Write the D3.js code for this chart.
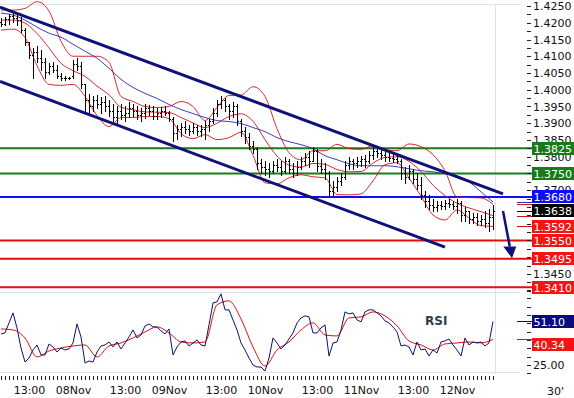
<!DOCTYPE html>
<html>
<head>
<meta charset="utf-8">
<script src="https://cdn.jsdelivr.net/npm/d3@7"></script>
<style>
  body { margin: 0; background: #fff; }
  svg { display: block; }
  text { font-family: "DejaVu Sans", sans-serif; }
</style>
</head>
<body>
<div id="viz"></div>
<script>
// 30' bars, EUR/USD-like price (hourly sampling of the picture)
const opens = [
  1.4202, 1.4196, 1.4211, 1.4220, 1.4214, 1.4208, 1.4178, 1.4142, 1.4103, 1.4112,
  1.4094, 1.4082, 1.4052, 1.4070, 1.4058, 1.4040, 1.4034, 1.4034, 1.4040, 1.4076,
  1.4070, 1.4016, 1.3968, 1.3950, 1.3968, 1.3956, 1.3962, 1.3950, 1.3938, 1.3920,
  1.3938, 1.3926, 1.3932, 1.3944, 1.3938, 1.3926, 1.3932, 1.3944, 1.3938, 1.3923,
  1.3932, 1.3938, 1.3932, 1.3914, 1.3872, 1.3884, 1.3890, 1.3884, 1.3878, 1.3890,
  1.3878, 1.3884, 1.3896, 1.3908, 1.3932, 1.3956, 1.3968, 1.3950, 1.3938, 1.3950,
  1.3908, 1.3878, 1.3860, 1.3833, 1.3824, 1.3782, 1.3770, 1.3764, 1.3758, 1.3776,
  1.3770, 1.3758, 1.3788, 1.3764, 1.3752, 1.3770, 1.3788, 1.3800, 1.3788, 1.3818,
  1.3773, 1.3764, 1.3752, 1.3698, 1.3710, 1.3728, 1.3740, 1.3776, 1.3788, 1.3782,
  1.3788, 1.3794, 1.3788, 1.3806, 1.3818, 1.3812, 1.3806, 1.3800, 1.3797, 1.3794,
  1.3788, 1.3752, 1.3740, 1.3758, 1.3734, 1.3716, 1.3686, 1.3668, 1.3656, 1.3650,
  1.3656, 1.3653, 1.3662, 1.3659, 1.3653, 1.3662, 1.3626, 1.3638, 1.3614, 1.3620,
  1.3608, 1.3614, 1.3602, 1.3620
];
const highs = [
  1.4214, 1.4217, 1.4226, 1.4232, 1.4226, 1.4217, 1.4184, 1.4142, 1.4124, 1.4130,
  1.4118, 1.4094, 1.4079, 1.4082, 1.4073, 1.4049, 1.4040, 1.4037, 1.4088, 1.4094,
  1.4082, 1.4016, 1.3986, 1.3980, 1.3983, 1.3977, 1.3980, 1.3968, 1.3956, 1.3950,
  1.3956, 1.3950, 1.3962, 1.3956, 1.3950, 1.3944, 1.3956, 1.3953, 1.3950, 1.3944,
  1.3947, 1.3950, 1.3938, 1.3920, 1.3896, 1.3902, 1.3908, 1.3896, 1.3902, 1.3896,
  1.3896, 1.3908, 1.3914, 1.3944, 1.3968, 1.3980, 1.3974, 1.3956, 1.3962, 1.3956,
  1.3914, 1.3890, 1.3872, 1.3848, 1.3830, 1.3794, 1.3788, 1.3782, 1.3788, 1.3794,
  1.3788, 1.3800, 1.3794, 1.3782, 1.3788, 1.3800, 1.3812, 1.3818, 1.3830, 1.3824,
  1.3794, 1.3782, 1.3758, 1.3728, 1.3740, 1.3752, 1.3788, 1.3800, 1.3794, 1.3800,
  1.3803, 1.3806, 1.3818, 1.3830, 1.3830, 1.3824, 1.3818, 1.3812, 1.3809, 1.3806,
  1.3794, 1.3770, 1.3776, 1.3764, 1.3752, 1.3740, 1.3698, 1.3686, 1.3674, 1.3668,
  1.3668, 1.3671, 1.3674, 1.3668, 1.3674, 1.3668, 1.3650, 1.3638, 1.3632, 1.3632,
  1.3626, 1.3638, 1.3644, 1.3656
];
const lows = [
  1.4190, 1.4193, 1.4196, 1.4202, 1.4193, 1.4172, 1.4133, 1.4094, 1.4034, 1.4082,
  1.4058, 1.4034, 1.4046, 1.4052, 1.4034, 1.4028, 1.4028, 1.4031, 1.4034, 1.4058,
  1.4004, 1.3938, 1.3932, 1.3938, 1.3944, 1.3932, 1.3938, 1.3923, 1.3908, 1.3902,
  1.3914, 1.3908, 1.3920, 1.3923, 1.3914, 1.3908, 1.3917, 1.3926, 1.3914, 1.3914,
  1.3920, 1.3926, 1.3908, 1.3848, 1.3854, 1.3863, 1.3872, 1.3866, 1.3872, 1.3866,
  1.3863, 1.3854, 1.3878, 1.3902, 1.3923, 1.3944, 1.3938, 1.3914, 1.3920, 1.3896,
  1.3863, 1.3842, 1.3824, 1.3812, 1.3764, 1.3752, 1.3746, 1.3740, 1.3752, 1.3758,
  1.3746, 1.3752, 1.3752, 1.3740, 1.3746, 1.3764, 1.3776, 1.3770, 1.3788, 1.3758,
  1.3752, 1.3734, 1.3680, 1.3686, 1.3698, 1.3716, 1.3734, 1.3764, 1.3764, 1.3770,
  1.3773, 1.3770, 1.3782, 1.3794, 1.3800, 1.3794, 1.3788, 1.3788, 1.3785, 1.3782,
  1.3734, 1.3722, 1.3734, 1.3722, 1.3704, 1.3674, 1.3650, 1.3644, 1.3638, 1.3638,
  1.3644, 1.3644, 1.3650, 1.3644, 1.3632, 1.3608, 1.3608, 1.3602, 1.3602, 1.3596,
  1.3596, 1.3590, 1.3578, 1.3584
];
const closes = [
  1.4196, 1.4211, 1.4220, 1.4214, 1.4208, 1.4178, 1.4142, 1.4103, 1.4112, 1.4094,
  1.4082, 1.4052, 1.4070, 1.4058, 1.4040, 1.4034, 1.4034, 1.4034, 1.4076, 1.4070,
  1.4016, 1.3968, 1.3950, 1.3968, 1.3956, 1.3962, 1.3950, 1.3938, 1.3920, 1.3938,
  1.3926, 1.3932, 1.3944, 1.3938, 1.3926, 1.3932, 1.3944, 1.3938, 1.3923, 1.3932,
  1.3938, 1.3932, 1.3914, 1.3872, 1.3884, 1.3890, 1.3884, 1.3878, 1.3890, 1.3878,
  1.3884, 1.3896, 1.3908, 1.3932, 1.3956, 1.3968, 1.3950, 1.3938, 1.3950, 1.3908,
  1.3878, 1.3860, 1.3833, 1.3824, 1.3782, 1.3770, 1.3764, 1.3758, 1.3776, 1.3770,
  1.3758, 1.3788, 1.3764, 1.3752, 1.3770, 1.3788, 1.3800, 1.3788, 1.3818, 1.3773,
  1.3764, 1.3752, 1.3698, 1.3710, 1.3728, 1.3740, 1.3776, 1.3788, 1.3782, 1.3788,
  1.3794, 1.3788, 1.3806, 1.3818, 1.3812, 1.3806, 1.3800, 1.3797, 1.3794, 1.3788,
  1.3752, 1.3740, 1.3758, 1.3734, 1.3716, 1.3686, 1.3668, 1.3656, 1.3650, 1.3656,
  1.3653, 1.3662, 1.3659, 1.3653, 1.3662, 1.3626, 1.3638, 1.3614, 1.3620, 1.3608,
  1.3614, 1.3602, 1.3620, 1.3638
];

// bollinger bands + moving average, one value every 3 bars
const bandStep = 3;
const upperBand = [
  1.4238, 1.4238, 1.4243, 1.4263, 1.4235, 1.4145, 1.4100, 1.4100, 1.4100, 1.4082,
  1.3980, 1.3965, 1.3950, 1.3947, 1.3950, 1.3965, 1.3950, 1.3908, 1.3947, 1.3983,
  1.3984, 1.4009, 1.3980, 1.3884, 1.3812, 1.3791, 1.3818, 1.3818, 1.3837, 1.3824,
  1.3822, 1.3833, 1.3821, 1.3818, 1.3838, 1.3830, 1.3806, 1.3758, 1.3680, 1.3678,
  1.3677, 1.3658
];
const midBand = [
  1.4208, 1.4208, 1.4199, 1.4168, 1.4125, 1.4079, 1.4057, 1.4040, 1.4011, 1.3985,
  1.3948, 1.3940, 1.3934, 1.3933, 1.3932, 1.3917, 1.3901, 1.3887, 1.3900, 1.3920,
  1.3928, 1.3906, 1.3851, 1.3802, 1.3775, 1.3769, 1.3780, 1.3777, 1.3762, 1.3755,
  1.3756, 1.3781, 1.3798, 1.3800, 1.3786, 1.3756, 1.3715, 1.3684, 1.3661, 1.3647,
  1.3636, 1.3624
];
const lowerBand = [
  1.4178, 1.4181, 1.4156, 1.4072, 1.4016, 1.4013, 1.4016, 1.3980, 1.3923, 1.3890,
  1.3917, 1.3917, 1.3920, 1.3920, 1.3914, 1.3869, 1.3854, 1.3866, 1.3851, 1.3857,
  1.3873, 1.3804, 1.3722, 1.3719, 1.3737, 1.3746, 1.3740, 1.3737, 1.3687, 1.3686,
  1.3689, 1.3728, 1.3776, 1.3782, 1.3736, 1.3683, 1.3626, 1.3611, 1.3641, 1.3617,
  1.3594, 1.3592
];
const maLine = [
  1.4229, 1.4223, 1.4208, 1.4187, 1.4169, 1.4157, 1.4136, 1.4115, 1.4094, 1.4064,
  1.4031, 1.4007, 1.3989, 1.3974, 1.3956, 1.3941, 1.3929, 1.3917, 1.3908, 1.3905,
  1.3899, 1.3887, 1.3875, 1.3857, 1.3845, 1.3836, 1.3824, 1.3803, 1.3791, 1.3779,
  1.3773, 1.3773, 1.3773, 1.3770, 1.3764, 1.3758, 1.3755, 1.3749, 1.3743, 1.3725,
  1.3695, 1.3665
];

// RSI (every bar) and its signal (every 3 bars)
const rsi = [
  43.6, 44.2, 50.2, 56.2, 47.2, 35.2, 26.8, 29.2, 34.0, 37.0,
  31.0, 31.0, 37.6, 35.8, 32.8, 35.2, 34.0, 34.6, 38.2, 49.6,
  41.8, 26.2, 27.4, 26.8, 32.8, 36.4, 37.0, 38.8, 35.8, 38.8,
  34.6, 38.2, 41.8, 46.0, 41.2, 43.0, 48.4, 49.6, 47.8, 47.8,
  45.4, 43.6, 46.6, 31.0, 35.8, 38.8, 39.4, 36.4, 38.2, 40.0,
  37.0, 36.4, 49.0, 62.2, 62.8, 67.6, 58.0, 58.0, 52.0, 46.0,
  38.2, 34.0, 29.2, 25.0, 23.8, 23.8, 21.4, 29.2, 41.2, 38.2,
  34.6, 37.0, 40.6, 44.2, 50.2, 53.2, 54.4, 53.8, 44.2, 44.2,
  47.2, 49.0, 30.4, 38.2, 38.8, 46.0, 56.8, 55.6, 56.2, 52.0,
  50.8, 56.8, 58.0, 58.0, 56.2, 54.4, 51.4, 50.2, 47.8, 44.8,
  36.4, 37.0, 35.8, 31.0, 38.8, 34.0, 34.6, 30.4, 34.0, 32.2,
  38.8, 39.4, 40.6, 37.0, 34.0, 30.4, 41.2, 37.0, 38.8, 38.2,
  38.8, 36.4, 38.2, 51.10
];
const rsiSignal = [
  46.6, 46.0, 41.2, 29.8, 33.4, 35.2, 36.4, 37.0, 29.8, 36.4,
  38.2, 41.2, 44.8, 47.8, 44.2, 38.8, 38.2, 38.8, 61.0, 63.4,
  52.6, 35.8, 24.4, 34.0, 38.8, 46.0, 50.2, 43.0, 42.4, 53.2,
  53.8, 56.8, 54.4, 48.4, 39.4, 37.0, 34.0, 37.6, 38.2, 38.8,
  38.2, 40.34
];

// support / resistance levels
const greenLevels = [1.3825, 1.3750];
const blueLevels = [1.3680];
const redLevels = [1.3550, 1.3495, 1.3410];

// channel lines and arrow, as [bar, price]
const channelTop = [[-0.25, 1.4247], [125.5, 1.3689]];
const channelBottom = [[-0.25, 1.4025], [111, 1.3530]];
const arrowPts = [[125.5, 1.3638], [127.75, 1.3497]];

// labelled price ticks (the ones not hidden by the value boxes)
const priceTicks = [1.3450, 1.3700, 1.3750, 1.3800, 1.3850,
  1.3900, 1.3950, 1.4000, 1.4050, 1.4100, 1.4150, 1.4200, 1.4250];
const priceMinorTicks = [1.3400, 1.3425, 1.3450, 1.3475, 1.3500, 1.3525, 1.3550, 1.3575,
  1.3600, 1.3625, 1.3650, 1.3675, 1.3700, 1.3725, 1.3750, 1.3775, 1.3800, 1.3825,
  1.3850, 1.3875, 1.3900, 1.3925, 1.3950, 1.3975, 1.4000, 1.4025, 1.4050, 1.4075,
  1.4100, 1.4125, 1.4150, 1.4175, 1.4200, 1.4225, 1.4250];
const rsiTicks = [20, 25, 30, 35, 40, 45, 50, 55, 60, 65, 70];

const timeLabels = ["13:00", "08Nov", "13:00", "09Nov", "13:00", "10Nov", "13:00", "11Nov", "13:00", "12Nov"];
const timeLabelBars = [7, 18, 31, 42, 55, 66, 79, 90, 103, 114];

// ========================================

const width = 574;
const height = 398;

const svg = d3.select("#viz")
  .append("svg")
  .attr("width", width)
  .attr("height", height);

const x = d3.scaleLinear().domain([0, 123]).range([1, 493]);
const y = d3.scaleLinear().domain([1.3400, 1.4268]).range([290.67, 0]);
const yr = d3.scaleLinear().domain([25, 65]).range([365, 298.2]);

const RED = "#e50d0d";
const GREEN = "#197a19";
const BLUE = "#1010f0";
const NAVY = "#10107a";

// frame lines
const frame = svg.append("g").attr("stroke", "#dbe3ea").attr("shape-rendering", "crispEdges");
[4.5, 292.5, 372.5].forEach(v => {
  frame.append("line").attr("x1", 0).attr("x2", 520).attr("y1", v).attr("y2", v);
});
frame.append("line").attr("x1", 495.5).attr("x2", 495.5).attr("y1", 4).attr("y2", 374);

// level lines
const levelG = svg.append("g").attr("stroke-width", 2);
const addLevels = (vals, color) => {
  levelG.selectAll(null)
    .data(vals)
    .enter()
    .append("line")
    .attr("x1", 0)
    .attr("x2", 532)
    .attr("y1", d => y(d))
    .attr("y2", d => y(d))
    .attr("stroke", color);
};
addLevels(greenLevels, GREEN);
addLevels(blueLevels, BLUE);
addLevels(redLevels, RED);

// bands and moving average
const bandLine = d3.line()
  .x((d, k) => x(k * bandStep))
  .y(d => y(d))
  .curve(d3.curveMonotoneX);

[upperBand, midBand, lowerBand].forEach(b => {
  svg.append("path")
    .attr("d", bandLine(b))
    .attr("fill", "none")
    .attr("stroke", "#d41414")
    .attr("stroke-width", 0.9);
});
svg.append("path")
  .attr("d", bandLine(maLine))
  .attr("fill", "none")
  .attr("stroke", "#2a2ab4")
  .attr("stroke-width", 0.9);

// OHLC bars
svg.append("g")
  .attr("stroke", "#000")
  .attr("stroke-width", 1)
  .attr("shape-rendering", "crispEdges")
  .selectAll("path")
  .data(closes)
  .enter()
  .append("path")
  .attr("d", (c, i) => {
    const xi = Math.round(x(i));
    const yo = Math.round(y(opens[i])) + 0.5;
    const yc = Math.round(y(c)) + 0.5;
    return `M${xi + 0.5},${Math.round(y(highs[i]))}V${Math.round(y(lows[i])) + 1}` +
      `M${xi - 1},${yo}H${xi + 0.5}M${xi + 0.5},${yc}H${xi + 2}`;
  });

// channel
const ptLine = d3.line().x(d => x(d[0])).y(d => y(d[1]));
[channelTop, channelBottom].forEach(c => {
  svg.append("path")
    .attr("d", ptLine(c))
    .attr("stroke", NAVY)
    .attr("stroke-width", 3)
    .attr("fill", "none");
});

// arrow
const a0 = [x(arrowPts[0][0]), y(arrowPts[0][1])];
const a1 = [x(arrowPts[1][0]), y(arrowPts[1][1])];
const ang = Math.atan2(a1[1] - a0[1], a1[0] - a0[0]);
const headLen = 12, headW = 6.5;
const base = [a1[0] - headLen * Math.cos(ang), a1[1] - headLen * Math.sin(ang)];
svg.append("line")
  .attr("x1", a0[0]).attr("y1", a0[1])
  .attr("x2", base[0]).attr("y2", base[1])
  .attr("stroke", NAVY)
  .attr("stroke-width", 2.5);
svg.append("path")
  .attr("d", `M${a1[0]},${a1[1]}L${base[0] - headW},${base[1]}L${base[0] + headW},${base[1]}Z`)
  .attr("fill", NAVY);

// RSI panel
const rsiLine = d3.line().x((d, i) => x(i)).y(d => yr(d));
const sigLine = d3.line().x((d, k) => x(k * bandStep)).y(d => yr(d)).curve(d3.curveMonotoneX);
svg.append("path")
  .attr("d", sigLine(rsiSignal))
  .attr("fill", "none")
  .attr("stroke", "#dd1111")
  .attr("stroke-width", 1);
svg.append("path")
  .attr("d", rsiLine(rsi))
  .attr("fill", "none")
  .attr("stroke", "#101070")
  .attr("stroke-width", 1);
svg.append("text")
  .attr("x", 425)
  .attr("y", 325)
  .attr("font-size", 12)
  .attr("font-weight", "bold")
  .attr("fill", "#2c3e4e")
  .text("RSI");

// axes
const fmt = d3.format(".4f");
const styleAxis = g => {
  g.select(".domain").remove();
  g.attr("font-family", "DejaVu Sans, sans-serif").attr("font-size", 11);
  g.selectAll("text").attr("fill", "#111");
  g.selectAll("line").attr("stroke", "#222").attr("shape-rendering", "crispEdges");
};

svg.append("g")
  .attr("transform", "translate(527,0)")
  .call(d3.axisRight(y).tickValues(priceMinorTicks).tickSize(4).tickFormat(""))
  .call(styleAxis);
svg.append("g")
  .attr("transform", "translate(527,0)")
  .call(d3.axisRight(y).tickValues(priceTicks).tickSize(0).tickPadding(6).tickFormat(fmt))
  .call(styleAxis);

svg.append("g")
  .attr("transform", "translate(527,0)")
  .call(d3.axisRight(yr).tickValues(rsiTicks).tickSize(4).tickPadding(2)
    .tickFormat(d => d === 25 ? "25.00" : ""))
  .call(styleAxis);

svg.append("g")
  .attr("transform", "translate(0,376)")
  .call(d3.axisBottom(x).tickValues(d3.range(0, 124)).tickSize(4).tickPadding(6)
    .tickFormat(i => {
      const k = timeLabelBars.indexOf(i);
      return k >= 0 ? timeLabels[k] : "";
    }))
  .call(styleAxis);

svg.append("text")
  .attr("x", 547)
  .attr("y", 395)
  .attr("font-size", 11)
  .attr("fill", "#111")
  .text("30'");

// last-value markers
const lastIdx = maLine.length - 1;
const markers = [
  [maLine[lastIdx], "#2a2ab4"],
  [upperBand[lastIdx], "#d41414"],
  [midBand[lastIdx], "#d41414"],
  [closes[closes.length - 1], "#000"],
  [lowerBand[lastIdx], "#d41414"]
];
markers.forEach(([v, c]) => {
  svg.append("line")
    .attr("x1", 517).attr("x2", 532)
    .attr("y1", Math.round(y(v)) + 0.5).attr("y2", Math.round(y(v)) + 0.5)
    .attr("stroke", c)
    .attr("shape-rendering", "crispEdges");
});
[[rsi[rsi.length - 1], "#101070"], [rsiSignal[rsiSignal.length - 1], "#dd1111"]].forEach(([v, c]) => {
  svg.append("line")
    .attr("x1", 517).attr("x2", 532)
    .attr("y1", Math.round(yr(v)) + 0.5).attr("y2", Math.round(yr(v)) + 0.5)
    .attr("stroke", c)
    .attr("shape-rendering", "crispEdges");
});

// value boxes
const boxes = [];
greenLevels.forEach(v => boxes.push({ y: y(v), fill: GREEN, text: fmt(v) }));
blueLevels.forEach(v => boxes.push({ y: y(v), fill: "#0c0cff", text: fmt(v) }));
boxes.push({ y: y(closes[closes.length - 1]), fill: "#000", text: fmt(closes[closes.length - 1]) });
boxes.push({ y: y(lowerBand[lastIdx]), fill: "#f41414", text: fmt(lowerBand[lastIdx]) });
redLevels.forEach(v => boxes.push({ y: y(v), fill: "#f41414", text: fmt(v) }));
boxes.push({ y: yr(rsi[rsi.length - 1]), fill: "#0a0a80", text: d3.format(".2f")(rsi[rsi.length - 1]) });
boxes.push({ y: yr(rsiSignal[rsiSignal.length - 1]) + 5, fill: "#f41414", text: d3.format(".2f")(rsiSignal[rsiSignal.length - 1]) });

const boxG = svg.append("g");
boxes.forEach(b => {
  boxG.append("rect")
    .attr("x", 532)
    .attr("y", Math.round(b.y - 6.5))
    .attr("width", 42)
    .attr("height", 13)
    .attr("fill", b.fill);
  boxG.append("text")
    .attr("x", 533.5)
    .attr("y", Math.round(b.y - 6.5) + 11)
    .attr("font-size", 11)
    .attr("fill", "#fff")
    .text(b.text);
});
</script>
</body>
</html>
